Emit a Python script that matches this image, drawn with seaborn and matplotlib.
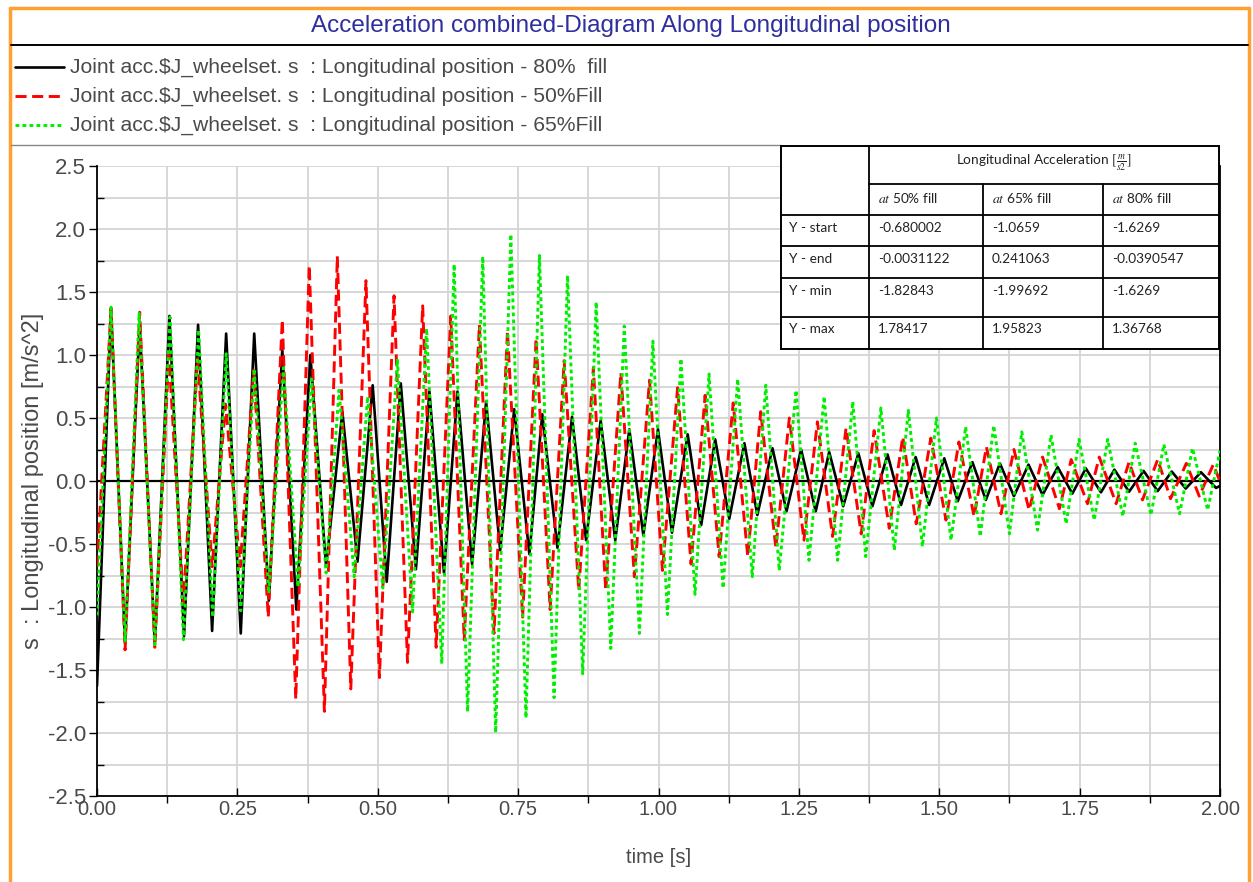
import matplotlib
matplotlib.use("Agg")
import matplotlib.pyplot as plt
import seaborn as sns
import pandas as pd
from matplotlib.lines import Line2D
from matplotlib.patches import Rectangle
from matplotlib.ticker import MultipleLocator, FormatStrFormatter

# ---------------- data (extrema of each trace) ----------------
fill80_t = [0.000, 0.025, 0.050, 0.076, 0.103, 0.129, 0.155, 0.180, 0.205, 0.230,
            0.256, 0.280, 0.306, 0.330, 0.355, 0.380, 0.408, 0.437, 0.464, 0.491,
            0.516, 0.541, 0.568, 0.592, 0.618, 0.642, 0.668, 0.693, 0.718, 0.743,
            0.770, 0.793, 0.820, 0.846, 0.871, 0.897, 0.923, 0.948, 0.973, 0.999,
            1.024, 1.052, 1.076, 1.101, 1.126, 1.153, 1.176, 1.203, 1.228, 1.254,
            1.280, 1.304, 1.329, 1.356, 1.381, 1.408, 1.432, 1.458, 1.482, 1.509,
            1.533, 1.559, 1.583, 1.608, 1.633, 1.659, 1.684, 1.711, 1.737, 1.761,
            1.788, 1.812, 1.838, 1.864, 1.889, 1.914, 1.939, 1.966, 1.993, 2.000]
fill80_y = [-1.627, 1.368, -1.29, 1.25, -1.29, 1.31, -1.23, 1.24, -1.19, 1.17,
            -1.21, 1.17, -0.95, 1.04, -1.02, 1.00, -0.68, 0.55, -0.64, 0.76,
            -0.80, 0.775, -0.70, 0.71, -0.73, 0.71, -0.66, 0.63, -0.55, 0.57,
            -0.58, 0.53, -0.53, 0.51, -0.47, 0.48, -0.47, 0.41, -0.43, 0.41,
            -0.41, 0.37, -0.35, 0.33, -0.30, 0.30, -0.27, 0.26, -0.24, 0.25,
            -0.24, 0.23, -0.20, 0.22, -0.20, 0.21, -0.19, 0.19, -0.19, 0.18,
            -0.16, 0.15, -0.15, 0.14, -0.12, 0.13, -0.11, 0.11, -0.10, 0.10,
            -0.09, 0.09, -0.085, 0.08, -0.08, 0.075, -0.06, 0.07, -0.055, -0.039]

fill50_t = [0.000, 0.025, 0.050, 0.076, 0.103, 0.128, 0.154, 0.179, 0.205, 0.229,
            0.255, 0.279, 0.305, 0.330, 0.354, 0.378, 0.405, 0.428, 0.452, 0.479,
            0.503, 0.529, 0.553, 0.580, 0.604, 0.630, 0.654, 0.681, 0.707, 0.731,
            0.758, 0.782, 0.807, 0.832, 0.858, 0.884, 0.906, 0.933, 0.957, 0.984,
            1.007, 1.034, 1.058, 1.083, 1.108, 1.133, 1.159, 1.182, 1.209, 1.233,
            1.259, 1.283, 1.310, 1.334, 1.361, 1.384, 1.411, 1.435, 1.459, 1.485,
            1.512, 1.535, 1.562, 1.584, 1.610, 1.633, 1.660, 1.684, 1.714, 1.735,
            1.764, 1.785, 1.815, 1.838, 1.862, 1.889, 1.912, 1.940, 1.963, 1.988, 2.000]
fill50_y = [-0.680, 1.37, -1.34, 1.34, -1.32, 1.01, -0.97, 0.97, -0.68, 0.61,
            -0.68, 0.88, -1.08, 1.28, -1.73, 1.71, -1.828, 1.784, -1.65, 1.59,
            -1.56, 1.47, -1.44, 1.39, -1.32, 1.31, -1.26, 1.24, -1.21, 1.19,
            -1.08, 1.13, -1.02, 0.955, -0.87, 0.90, -0.87, 0.86, -0.76, 0.80,
            -0.71, 0.74, -0.66, 0.68, -0.60, 0.62, -0.60, 0.55, -0.53, 0.50,
            -0.47, 0.47, -0.44, 0.42, -0.42, 0.40, -0.375, 0.35, -0.34, 0.34,
            -0.31, 0.31, -0.28, 0.27, -0.26, 0.25, -0.23, 0.19, -0.22, 0.17,
            -0.18, 0.19, -0.18, 0.15, -0.15, 0.17, -0.14, 0.14, -0.12, 0.13, -0.003]

fill65_t = [0.000, 0.025, 0.050, 0.075, 0.103, 0.130, 0.154, 0.181, 0.206, 0.230,
            0.256, 0.280, 0.306, 0.332, 0.358, 0.382, 0.408, 0.431, 0.458, 0.482,
            0.509, 0.535, 0.562, 0.587, 0.614, 0.636, 0.660, 0.687, 0.710, 0.737,
            0.764, 0.788, 0.814, 0.838, 0.865, 0.889, 0.915, 0.939, 0.966, 0.990,
            1.016, 1.040, 1.065, 1.090, 1.115, 1.141, 1.167, 1.191, 1.215, 1.245,
            1.268, 1.295, 1.319, 1.346, 1.369, 1.396, 1.420, 1.445, 1.470, 1.495,
            1.521, 1.547, 1.573, 1.597, 1.625, 1.647, 1.675, 1.699, 1.726, 1.749,
            1.776, 1.800, 1.827, 1.849, 1.877, 1.900, 1.928, 1.951, 1.978, 2.000]
fill65_y = [-1.066, 1.38, -1.28, 1.33, -1.30, 1.30, -1.26, 1.20, -1.08, 1.01,
            -1.03, 0.89, -0.89, 0.90, -0.84, 0.81, -0.73, 0.72, -0.76, 0.67,
            -0.85, 0.96, -1.04, 1.21, -1.45, 1.72, -1.83, 1.78, -1.997, 1.958,
            -1.88, 1.79, -1.72, 1.63, -1.53, 1.42, -1.33, 1.23, -1.21, 1.11,
            -1.06, 0.97, -0.90, 0.85, -0.85, 0.81, -0.76, 0.76, -0.71, 0.72,
            -0.63, 0.67, -0.63, 0.63, -0.60, 0.58, -0.55, 0.56, -0.52, 0.50,
            -0.47, 0.43, -0.44, 0.44, -0.42, 0.39, -0.39, 0.365, -0.34, 0.33,
            -0.31, 0.33, -0.28, 0.30, -0.27, 0.29, -0.26, 0.26, -0.23, 0.241]

legend_labels = [r"Joint acc.\$J_wheelset. s  : Longitudinal position - 80%  fill",
                 r"Joint acc.\$J_wheelset. s  : Longitudinal position - 50%Fill",
                 r"Joint acc.\$J_wheelset. s  : Longitudinal position - 65%Fill"]
title_text = "Acceleration combined-Diagram Along Longitudinal position"
x_ticks = [0.00, 0.25, 0.50, 0.75, 1.00, 1.25, 1.50, 1.75, 2.00]
y_ticks = [-2.5, -2.0, -1.5, -1.0, -0.5, 0.0, 0.5, 1.0, 1.5, 2.0, 2.5]

table_header = r"Longitudinal Acceleration $[\frac{m}{s2}]$"
table_cols = [r"$at$ 50% fill", r"$at$ 65% fill", r"$at$ 80% fill"]
table_rows = ["Y - start", "Y - end", "Y - min", "Y - max"]
table_50 = ["-0.680002", "-0.0031122", "-1.82843", "1.78417"]
table_65 = ["-1.0659", "0.241063", "-1.99692", "1.95823"]
table_80 = ["-1.6269", "-0.0390547", "-1.6269", "1.36768"]

# ---------------- style ----------------
sns.set_theme(style="white")
plt.rcParams['font.family'] = ['Liberation Sans', 'DejaVu Sans']
plt.rcParams['axes.unicode_minus'] = False
plt.rcParams['mathtext.fontset'] = 'stix'

W, H = 1253, 882
fig = plt.figure(figsize=(W / 100, H / 100), dpi=100)
fig.patch.set_facecolor('white')

def fx(px):
    return px / W

def fy(py):
    return 1 - py / H

ax = fig.add_axes([fx(97), fy(796), fx(1220) - fx(97), fy(166) - fy(796)])

c_black, c_red, c_green = '#000000', '#ff0000', '#00ee00'
style_black = dict(color=c_black, lw=1.9)
style_red = dict(color=c_red, lw=2.1, linestyle=(0, (3.8, 1.9)))
style_green = dict(color=c_green, lw=2.1, linestyle=(0, (1.3, 1.1)))

df80 = pd.DataFrame({'t': fill80_t, 'a': fill80_y})
df50 = pd.DataFrame({'t': fill50_t, 'a': fill50_y})
df65 = pd.DataFrame({'t': fill65_t, 'a': fill65_y})

ax.axhline(0, color='black', lw=1.6, zorder=2)
sns.lineplot(data=df80, x='t', y='a', ax=ax, estimator=None, sort=False, legend=False, zorder=3, **style_black)
sns.lineplot(data=df50, x='t', y='a', ax=ax, estimator=None, sort=False, legend=False, zorder=4, **style_red)
sns.lineplot(data=df65, x='t', y='a', ax=ax, estimator=None, sort=False, legend=False, zorder=5, **style_green)

ax.set_xlim(0, 2.0)
ax.set_ylim(-2.5, 2.5)
ax.set_xticks(x_ticks)
ax.set_yticks(y_ticks)
ax.xaxis.set_minor_locator(MultipleLocator(0.125))
ax.yaxis.set_minor_locator(MultipleLocator(0.25))
ax.xaxis.set_major_formatter(FormatStrFormatter('%.2f'))
ax.yaxis.set_major_formatter(FormatStrFormatter('%.1f'))
ax.grid(which='both', color='#d4d4d4', lw=1.3, zorder=0)
ax.set_axisbelow(True)

for s in ['left', 'bottom', 'right']:
    ax.spines[s].set_color('black')
    ax.spines[s].set_linewidth(1.3)
ax.spines['top'].set_visible(False)

ax.tick_params(axis='y', which='major', direction='out', length=6, width=1, color='black',
               labelsize=16, labelcolor='#4a4a4a', pad=2, left=True)
ax.tick_params(axis='y', which='minor', direction='in', length=5, width=1, color='black', left=True)
ax.tick_params(axis='x', which='major', direction='in', length=6, width=1, color='black',
               labelsize=14.5, labelcolor='#4a4a4a', pad=3, bottom=True)
ax.tick_params(axis='x', which='minor', direction='out', length=5, width=1, color='black', bottom=True)

ax.set_xlabel("time [s]", fontsize=14.5, color='#4a4a4a')
ax.set_ylabel("s  : Longitudinal position [m/s^2]", fontsize=17, color='#4a4a4a')
ax.xaxis.set_label_coords(0.5, (796 - 848) / 630)
ax.yaxis.set_label_coords((44 - 97) / 1123, 0.5)

# ---------------- header: frame, title, legend ----------------
orange = '#ffa030'
fig.add_artist(Line2D([fx(10), fx(10)], [fy(8), fy(882)], color=orange, lw=2.5))
fig.add_artist(Line2D([fx(10), fx(1249)], [fy(8), fy(8)], color=orange, lw=2.5))
fig.add_artist(Line2D([fx(1249), fx(1249)], [fy(8), fy(882)], color=orange, lw=2.5))
fig.add_artist(Line2D([fx(11), fx(1248)], [fy(45), fy(45)], color='black', lw=1.4))
fig.add_artist(Line2D([fx(11), fx(781)], [fy(145), fy(145)], color='#888888', lw=1.0))

fig.text(fx(631), fy(26), title_text, ha='center', va='center', color='#2e2e9e', fontsize=17.5)

for i, (lab, st) in enumerate(zip(legend_labels, [style_black, style_red, style_green])):
    yy = [67, 96, 125][i]
    fig.add_artist(Line2D([fx(15), fx(64)], [fy(yy), fy(yy)], **st))
    fig.text(fx(70), fy(yy), lab, ha='left', va='center', color='#4a4a4a', fontsize=15.2)

# ---------------- summary table ----------------
tx = [781, 869, 983, 1103, 1219]
ty = [146, 184, 215, 246, 278, 317, 349]
fig.add_artist(Rectangle((fx(tx[0]), fy(ty[-1])), fx(tx[-1]) - fx(tx[0]), fy(ty[0]) - fy(ty[-1]),
                         facecolor='white', edgecolor='black', lw=1.4, zorder=10))
lk = dict(color='black', lw=1.3, zorder=11)
fig.add_artist(Line2D([fx(tx[1])] * 2, [fy(ty[0]), fy(ty[-1])], **lk))
for xv in tx[2:4]:
    fig.add_artist(Line2D([fx(xv)] * 2, [fy(ty[1]), fy(ty[-1])], **lk))
fig.add_artist(Line2D([fx(tx[1]), fx(tx[-1])], [fy(ty[1])] * 2, **lk))
for yv in ty[2:-1]:
    fig.add_artist(Line2D([fx(tx[0]), fx(tx[-1])], [fy(yv)] * 2, **lk))

tf = dict(fontsize=9.8, color='#222222', family=['Lato', 'DejaVu Sans'], zorder=12)
fig.text(fx(1044), fy(163), table_header, ha='center', va='center', **tf)
for j, c in enumerate(table_cols):
    fig.text(fx(tx[j + 1] + 9), fy(198), c, ha='left', va='center', **tf)
row_y = [228, 259, 291, 329]
for i, r in enumerate(table_rows):
    fig.text(fx(tx[0] + 8), fy(row_y[i]), r, ha='left', va='center', **tf)
    for j, col in enumerate([table_50, table_65, table_80]):
        fig.text(fx(tx[j + 1] + 9), fy(row_y[i]), col[i], ha='left', va='center', **tf)

fig.savefig("out.png", dpi=100, facecolor='white')
